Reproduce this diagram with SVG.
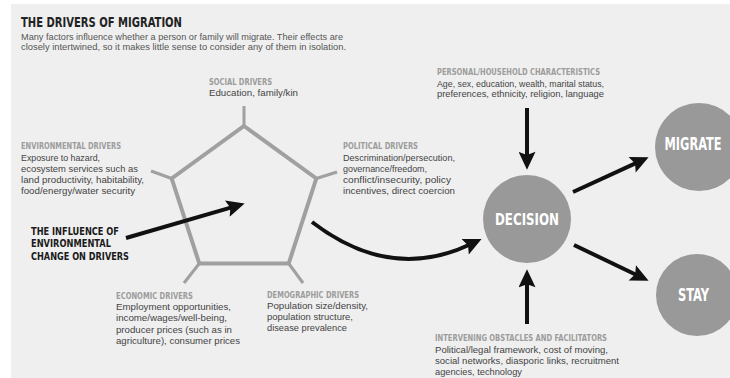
<svg xmlns="http://www.w3.org/2000/svg" width="730" height="378" viewBox="0 0 730 378">
<defs>
<style>
.bg{fill:#efefef}
.title{font-family:"Liberation Sans Narrow","DejaVu Sans Condensed","Liberation Sans",sans-serif;font-weight:bold;font-size:14.5px;fill:#222}
.sub{font-family:"Liberation Sans",Arial,sans-serif;font-size:9px;fill:#555}
.hd{font-family:"Liberation Sans Narrow","DejaVu Sans Condensed","Liberation Sans",sans-serif;font-weight:bold;font-size:9.5px;fill:#9c9c9c}
.bd{font-family:"Liberation Sans",Arial,sans-serif;font-size:9.5px;fill:#444}
.inf{font-family:"Liberation Sans Narrow","DejaVu Sans Condensed","Liberation Sans",sans-serif;font-weight:bold;font-size:11px;fill:#1a1a1a}
.ctext{font-family:"Liberation Sans Narrow","DejaVu Sans Condensed","Liberation Sans",sans-serif;font-weight:bold;fill:#ffffff;text-anchor:middle}
.circ{fill:#999999}
.pent{fill:none;stroke:#a0a0a0;stroke-width:4;stroke-linejoin:miter}
.spoke{stroke:#a0a0a0;stroke-width:3}
.arr{fill:none;stroke:#111;stroke-width:4;marker-end:url(#ah)}
</style>
<marker id="ah" markerUnits="userSpaceOnUse" markerWidth="19" markerHeight="17" viewBox="0 0 17 16" refX="5" refY="8" orient="auto">
<path d="M0,0 L17,8 L0,16 L3,8 z" fill="#111"/>
</marker>
</defs>
<rect class="bg" x="11" y="4" width="719" height="374"/>

<g id="header">
<text class="title" x="21" y="27" textLength="161" lengthAdjust="spacingAndGlyphs">THE DRIVERS OF MIGRATION</text>
<text class="sub" x="21" y="39.5" textLength="322" lengthAdjust="spacingAndGlyphs">Many factors influence whether a person or family will migrate. Their effects are</text>
<text class="sub" x="21" y="50" textLength="325" lengthAdjust="spacingAndGlyphs">closely intertwined, so it makes little sense to consider any of them in isolation.</text>
</g>

<g id="drivers-pentagon">
<polygon class="pent" points="244,126 316.3,178.5 288.7,263.5 199.3,263.5 171.7,178.5"/>
<line class="spoke" x1="244" y1="126" x2="244" y2="106"/>
<line class="spoke" x1="316.3" y1="178.5" x2="337" y2="172"/>
<line class="spoke" x1="288.7" y1="263.5" x2="303" y2="283"/>
<line class="spoke" x1="199.3" y1="263.5" x2="184" y2="283"/>
<line class="spoke" x1="171.7" y1="178.5" x2="151" y2="171"/>
</g>

<g id="social-drivers">
<text class="hd" x="209" y="85" textLength="63" lengthAdjust="spacingAndGlyphs">SOCIAL DRIVERS</text>
<text class="bd" x="209" y="96" textLength="89" lengthAdjust="spacingAndGlyphs">Education, family/kin</text>
</g>

<g id="environmental-drivers">
<text class="hd" x="21" y="149" textLength="100" lengthAdjust="spacingAndGlyphs">ENVIRONMENTAL DRIVERS</text>
<text class="bd" x="21" y="160.5" textLength="79" lengthAdjust="spacingAndGlyphs">Exposure to hazard,</text>
<text class="bd" x="21" y="171.5" textLength="117" lengthAdjust="spacingAndGlyphs">ecosystem services such as</text>
<text class="bd" x="21" y="182.5" textLength="123" lengthAdjust="spacingAndGlyphs">land productivity, habitability,</text>
<text class="bd" x="21" y="193.5" textLength="114" lengthAdjust="spacingAndGlyphs">food/energy/water security</text>
</g>

<g id="political-drivers">
<text class="hd" x="343" y="149" textLength="75" lengthAdjust="spacingAndGlyphs">POLITICAL DRIVERS</text>
<text class="bd" x="343" y="160.5" textLength="112" lengthAdjust="spacingAndGlyphs">Descrimination/persecution,</text>
<text class="bd" x="343" y="171.5" textLength="84" lengthAdjust="spacingAndGlyphs">governance/freedom,</text>
<text class="bd" x="343" y="182.5" textLength="108" lengthAdjust="spacingAndGlyphs">conflict/insecurity, policy</text>
<text class="bd" x="343" y="193.5" textLength="112" lengthAdjust="spacingAndGlyphs">incentives, direct coercion</text>
</g>

<g id="influence">
<text class="inf" x="31" y="234.5" textLength="88" lengthAdjust="spacingAndGlyphs">THE INFLUENCE OF</text>
<text class="inf" x="31" y="247" textLength="80" lengthAdjust="spacingAndGlyphs">ENVIRONMENTAL</text>
<text class="inf" x="31" y="259.5" textLength="98" lengthAdjust="spacingAndGlyphs">CHANGE ON DRIVERS</text>
</g>

<g id="economic-drivers">
<text class="hd" x="116" y="298.5" textLength="77" lengthAdjust="spacingAndGlyphs">ECONOMIC DRIVERS</text>
<text class="bd" x="116" y="310" textLength="115" lengthAdjust="spacingAndGlyphs">Employment opportunities,</text>
<text class="bd" x="116" y="321" textLength="111" lengthAdjust="spacingAndGlyphs">income/wages/well-being,</text>
<text class="bd" x="116" y="332.5" textLength="116" lengthAdjust="spacingAndGlyphs">producer prices (such as in</text>
<text class="bd" x="116" y="343.5" textLength="124" lengthAdjust="spacingAndGlyphs">agriculture), consumer prices</text>
</g>

<g id="demographic-drivers">
<text class="hd" x="267" y="297.5" textLength="92" lengthAdjust="spacingAndGlyphs">DEMOGRAPHIC DRIVERS</text>
<text class="bd" x="267" y="309" textLength="101" lengthAdjust="spacingAndGlyphs">Population size/density,</text>
<text class="bd" x="267" y="320" textLength="86" lengthAdjust="spacingAndGlyphs">population structure,</text>
<text class="bd" x="267" y="331" textLength="80" lengthAdjust="spacingAndGlyphs">disease prevalence</text>
</g>

<g id="personal-household">
<text class="hd" x="437" y="75" textLength="163" lengthAdjust="spacingAndGlyphs">PERSONAL/HOUSEHOLD CHARACTERISTICS</text>
<text class="bd" x="437" y="86.5" textLength="167" lengthAdjust="spacingAndGlyphs">Age, sex, education, wealth, marital status,</text>
<text class="bd" x="437" y="97" textLength="167" lengthAdjust="spacingAndGlyphs">preferences, ethnicity, religion, language</text>
</g>

<g id="intervening">
<text class="hd" x="435" y="341" textLength="172" lengthAdjust="spacingAndGlyphs">INTERVENING OBSTACLES AND FACILITATORS</text>
<text class="bd" x="435" y="352.5" textLength="173" lengthAdjust="spacingAndGlyphs">Political/legal framework, cost of moving,</text>
<text class="bd" x="435" y="363.5" textLength="184" lengthAdjust="spacingAndGlyphs">social networks, diasporic links, recruitment</text>
<text class="bd" x="435" y="374.5" textLength="87" lengthAdjust="spacingAndGlyphs">agencies, technology</text>
</g>

<g id="decision">
<circle class="circ" cx="527" cy="219" r="44"/>
<text class="ctext" x="527" y="224.5" font-size="15.5" textLength="64" lengthAdjust="spacingAndGlyphs">DECISION</text>
</g>

<g id="migrate">
<circle class="circ" cx="699" cy="147" r="44"/>
<text class="ctext" x="693" y="149.5" font-size="17" textLength="57" lengthAdjust="spacingAndGlyphs">MIGRATE</text>
</g>

<g id="stay">
<circle class="circ" cx="697" cy="295" r="41"/>
<text class="ctext" x="693.5" y="301" font-size="17" textLength="31" lengthAdjust="spacingAndGlyphs">STAY</text>
</g>

<g id="connectors">
<line class="arr" x1="126" y1="238" x2="232.4" y2="207.1"/>
<path class="arr" d="M312,222 Q390,282 470,244.5"/>
<line class="arr" x1="527" y1="108" x2="527" y2="157"/>
<line class="arr" x1="527" y1="324" x2="527" y2="282"/>
<line class="arr" x1="573" y1="192" x2="637" y2="162.6"/>
<line class="arr" x1="574" y1="245" x2="637.1" y2="275.2"/>
</g>
</svg>
